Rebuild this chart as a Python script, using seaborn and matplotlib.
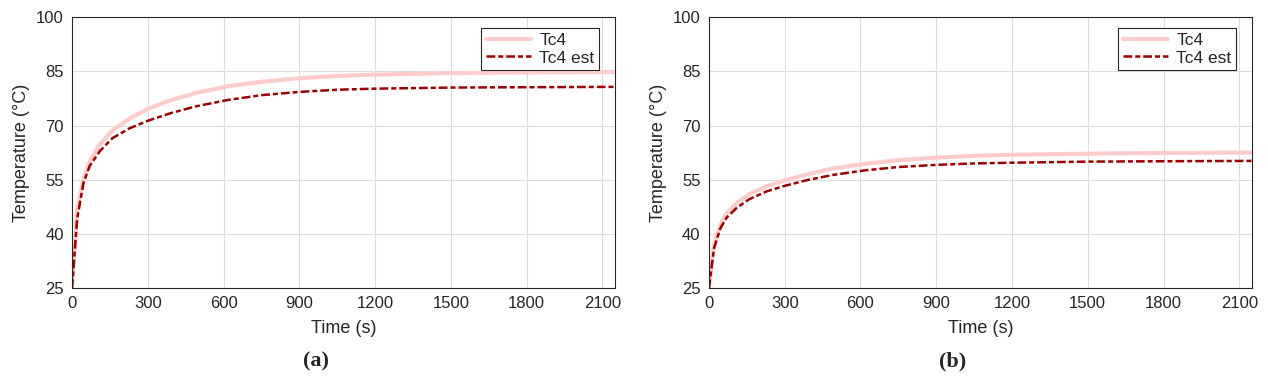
import numpy as np
import pandas as pd
import seaborn as sns
import matplotlib.pyplot as plt

# time points (s)
time_s = [0, 20, 45, 70, 110, 160, 230, 300, 390, 490, 620, 750, 900, 1050, 1200, 1500, 1800, 2150]

# panel (a)
tc4_a = [25, 46.5, 55, 60, 64.8, 68.6, 72, 74.6, 77, 79, 80.9, 82.1, 83.1, 83.7, 84.1, 84.5, 84.7, 84.8]
tc4_est_a = [25, 44, 54, 58.8, 62.9, 66.5, 69.3, 71.3, 73.4, 75.3, 77.1, 78.4, 79.3, 79.9, 80.2, 80.5, 80.6, 80.7]

# panel (b)
tc4_b = [25, 37, 42.5, 45.7, 48.5, 51, 53.2, 54.8, 56.5, 58.1, 59.4, 60.4, 61.1, 61.6, 61.9, 62.2, 62.4, 62.5]
tc4_est_b = [25, 36, 41.5, 44.5, 47.2, 49.6, 51.8, 53.3, 54.9, 56.3, 57.6, 58.5, 59.1, 59.5, 59.7, 60.0, 60.1, 60.2]

panels = [("(a)", tc4_a, tc4_est_a), ("(b)", tc4_b, tc4_est_b)]

sns.set_style("white")
plt.rcParams['font.family'] = ['Liberation Sans', 'DejaVu Sans']

fig = plt.figure(figsize=(12.68, 3.81), dpi=100)
boxes = [[0.0568, 0.244, 0.4282, 0.711], [0.5591, 0.244, 0.4282, 0.711]]
caption_x = [316 / 1268, 953 / 1268]

for i, (tag, meas, est) in enumerate(panels):
    ax = fig.add_axes(boxes[i])
    df = pd.DataFrame({"t": time_s, "Tc4": meas, "Tc4 est": est})
    sns.lineplot(data=df, x="t", y="Tc4", ax=ax, color="#ffcccc", lw=3, label="Tc4")
    sns.lineplot(data=df, x="t", y="Tc4 est", ax=ax, color="#990000", lw=1.8,
                 linestyle=(0, (3.5, 1.2, 2, 1.2)), label="Tc4 est")
    ax.set_xlim(0, 2150)
    ax.set_ylim(25, 100)
    ax.set_xticks(np.arange(0, 2101, 300))
    ax.set_yticks(np.arange(25, 101, 15))
    ax.grid(True, color="#dcdcdc", lw=0.8)
    ax.tick_params(direction="in", labelsize=12, colors="#262626", length=4, pad=6)
    for s in ax.spines.values():
        s.set_color("#262626")
        s.set_linewidth(0.8)
    ax.set_xlabel("Time (s)", fontsize=13, color="#262626", labelpad=6)
    ax.set_ylabel("Temperature (°C)", fontsize=13, color="#262626", labelpad=4)
    leg = ax.legend(loc="upper right", bbox_to_anchor=(0.9705, 0.959), borderaxespad=0,
                    fontsize=12.5, fancybox=False, framealpha=1, edgecolor="#262626",
                    handlelength=2.6, handletextpad=0.5, borderpad=0.25, labelspacing=0.15)
    leg.get_frame().set_linewidth(0.8)
    fig.text(caption_x[i], 0.052, tag, ha="center", va="center", fontsize=16,
             fontweight="bold", family="Liberation Serif")

fig.savefig("out.png", dpi=100)
